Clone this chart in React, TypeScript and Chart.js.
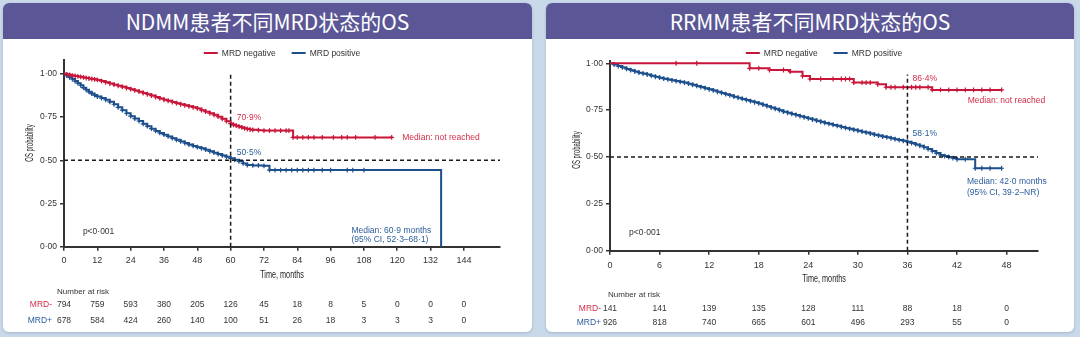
import React, { useEffect, useRef } from 'react';
import { Chart, registerables } from 'chart.js';

Chart.register(...registerables);

// ---------- colours ----------
const RED = '#c8163a';
const BLUE = '#1d4f8c';
const RED_TEXT = '#d22c48';
const BLUE_TEXT = '#2b5c9a';
const AXIS = '#333333';

// ---------- titles ----------
const ndmmTitle = 'NDMM患者不同MRD状态的OS';
const rrmmTitle = 'RRMM患者不同MRD状态的OS';
const seriesNames = ['MRD negative', 'MRD positive'];
const riskRowNames = ['MRD-', 'MRD+'];

// ---------- tick labels ----------
const yTickValues = [0, 0.25, 0.5, 0.75, 1];
const ndmmTimeTicks = [0, 12, 24, 36, 48, 60, 72, 84, 96, 108, 120, 132, 144];
const rrmmTimeTicks = [0, 6, 12, 18, 24, 30, 36, 42, 48];

// ---------- NDMM KM curves [month, survival] ----------
const ndmmNegative: [number, number][] = [
  [0, 1], [1, 0.997], [2, 0.994], [3, 0.99], [4, 0.988], [5, 0.985], [6, 0.982], [7, 0.979], [8, 0.976],
  [9, 0.973], [10, 0.97], [11, 0.968], [12, 0.965], [13.5, 0.958], [15, 0.951], [16.5, 0.944], [18, 0.937],
  [19.5, 0.931], [21, 0.925], [22.5, 0.918], [24, 0.911], [25.5, 0.904], [27, 0.897], [28.5, 0.889], [30, 0.882],
  [31.5, 0.874], [33, 0.866], [34.5, 0.858], [36, 0.85], [37.5, 0.844], [39, 0.837], [40.5, 0.83], [42, 0.824],
  [43.5, 0.818], [45, 0.812], [46.5, 0.806], [48, 0.8], [49.5, 0.79], [51, 0.781], [52.5, 0.772], [54, 0.763],
  [55.5, 0.752], [57, 0.74], [58.5, 0.726], [60, 0.712], [61, 0.705], [62, 0.7], [63, 0.695], [64, 0.69],
  [65, 0.685], [66, 0.681], [67, 0.678], [68, 0.676], [70, 0.674], [72, 0.672], [74, 0.672], [76, 0.672],
  [78, 0.672], [80, 0.672], [81, 0.672], [82.5, 0.632], [84, 0.632], [86, 0.632], [88, 0.632], [90, 0.632],
  [93, 0.632], [97, 0.632], [100, 0.632], [102, 0.632], [105, 0.632], [112, 0.632], [118, 0.632],
];
const ndmmPositive: [number, number][] = [
  [0, 1], [1, 0.99], [2, 0.98], [3, 0.97], [4, 0.958], [5, 0.946], [6, 0.934], [7, 0.92], [8, 0.908],
  [9, 0.896], [10, 0.886], [11, 0.877], [12, 0.869], [13.5, 0.86], [15, 0.85], [16.5, 0.838], [18, 0.824],
  [19.5, 0.806], [21, 0.79], [22.5, 0.772], [24, 0.755], [25.5, 0.741], [27, 0.727], [28.5, 0.711], [30, 0.697],
  [31.5, 0.683], [33, 0.67], [34.5, 0.658], [36, 0.648], [37.5, 0.638], [39, 0.628], [40.5, 0.618], [42, 0.609],
  [43.5, 0.6], [45, 0.591], [46.5, 0.583], [48, 0.576], [49.5, 0.569], [51, 0.561], [52.5, 0.552], [54, 0.544],
  [55.5, 0.536], [57, 0.528], [58.5, 0.52], [60, 0.511], [61.5, 0.503], [63, 0.494], [64.5, 0.482], [66, 0.472],
  [68, 0.47], [70, 0.47], [72, 0.468], [74, 0.443], [76, 0.443], [78, 0.443], [80, 0.443], [82, 0.443],
  [84, 0.443], [86, 0.443], [88, 0.443], [90, 0.443], [93, 0.443], [96, 0.443], [102, 0.443], [104, 0.443],
  [108, 0.443], [135.8, 0],
];

// ---------- RRMM KM curves [month, survival] ----------
const rrmmNegative: [number, number][] = [
  [0, 1], [8, 1], [10.5, 1], [16.9, 0.973], [18, 0.973],
  [19.3, 0.964], [21, 0.964], [21.8, 0.955], [23.3, 0.932], [24.2, 0.916], [25.5, 0.916], [27, 0.916],
  [28, 0.916], [28.5, 0.916], [29, 0.916], [29.5, 0.897], [30.5, 0.897], [31, 0.897], [31.5, 0.897],
  [32.4, 0.888], [33.4, 0.872], [34, 0.872], [34.5, 0.872], [35.5, 0.872], [36.5, 0.872], [37, 0.872],
  [37.5, 0.872], [38.5, 0.872], [39, 0.858], [40, 0.858], [41, 0.858], [42, 0.858], [43, 0.858], [44, 0.858],
  [45, 0.858], [46, 0.858], [47.4, 0.858],
];
const rrmmPositive: [number, number][] = [
  [0, 1], [0.5, 0.993], [1, 0.985], [1.5, 0.978], [2, 0.97], [2.5, 0.963], [3, 0.956], [3.5, 0.95],
  [4, 0.945], [4.5, 0.94], [5, 0.934], [5.5, 0.928], [6, 0.923], [6.5, 0.918], [7, 0.914], [7.5, 0.909],
  [8, 0.905], [8.5, 0.901], [9, 0.897], [9.5, 0.891], [10, 0.885], [10.5, 0.879], [11, 0.873], [11.5, 0.867],
  [12, 0.861], [12.5, 0.855], [13, 0.848], [13.5, 0.842], [14, 0.835], [14.5, 0.829], [15, 0.822], [15.5, 0.816],
  [16, 0.81], [16.5, 0.804], [17, 0.798], [17.5, 0.792], [18, 0.786], [18.5, 0.779], [19, 0.771], [19.5, 0.764],
  [20, 0.757], [20.5, 0.75], [21, 0.742], [21.5, 0.736], [22, 0.73], [22.5, 0.724], [23, 0.718], [23.5, 0.712],
  [24, 0.706], [24.5, 0.7], [25, 0.694], [25.5, 0.688], [26, 0.682], [26.5, 0.677], [27, 0.671], [27.5, 0.666],
  [28, 0.66], [28.5, 0.655], [29, 0.65], [29.5, 0.645], [30, 0.64], [30.5, 0.635], [31, 0.63], [31.5, 0.625],
  [32, 0.619], [32.5, 0.614], [33, 0.609], [33.5, 0.605], [34, 0.6], [34.5, 0.595], [35, 0.59], [35.5, 0.586],
  [36, 0.581], [36.5, 0.574], [37, 0.567], [37.5, 0.56], [38, 0.552], [38.5, 0.542], [39, 0.532], [39.5, 0.521],
  [40, 0.511], [40.5, 0.505], [41, 0.5], [41.5, 0.494], [42, 0.488], [43, 0.488], [44.2, 0.44], [45, 0.44],
  [46, 0.44], [47.4, 0.44],
];

// ---------- numbers at risk ----------
const ndmmRiskNegative = [794, 759, 593, 380, 205, 126, 45, 18, 8, 5, 0, 0, 0];
const ndmmRiskPositive = [678, 584, 424, 260, 140, 100, 51, 26, 18, 3, 3, 3, 0];
const rrmmRiskNegative = [141, 141, 139, 135, 128, 111, 88, 18, 0];
const rrmmRiskPositive = [926, 818, 740, 665, 601, 496, 293, 55, 0];

// ---------- annotations (data coordinates) ----------
type Note = { text: string; x: number; y: number; color: string };
const ndmmNotes: Note[] = [
  { text: '70·9%', x: 62.2, y: 0.745, color: RED_TEXT },
  { text: '50·5%', x: 62.2, y: 0.543, color: BLUE_TEXT },
  { text: 'Median: not reached', x: 121.8, y: 0.629, color: RED_TEXT },
  { text: 'Median: 60·9 months', x: 103.5, y: 0.091, color: BLUE_TEXT },
  { text: '(95% CI, 52·3–68·1)', x: 103.5, y: 0.039, color: BLUE_TEXT },
  { text: 'p<0·001', x: 6.8, y: 0.085, color: '#333' },
];
const rrmmNotes: Note[] = [
  { text: '86·4%', x: 36.6, y: 0.917, color: RED_TEXT },
  { text: 'Median: not reached', x: 43.3, y: 0.8, color: RED_TEXT },
  { text: '58·1%', x: 36.6, y: 0.623, color: BLUE_TEXT },
  { text: 'Median: 42·0 months', x: 43.2, y: 0.367, color: BLUE_TEXT },
  { text: '(95% CI, 39·2–NR)', x: 43.2, y: 0.308, color: BLUE_TEXT },
  { text: 'p<0·001', x: 2.3, y: 0.094, color: '#333' },
];

const SANS = '"Liberation Sans", Arial, sans-serif';

type PanelCfg = {
  title: string;
  cardLeft: number;
  width: number;
  height: number;
  area: { left: number; top: number; right: number; bottom: number };
  xMax: number;
  yMax: number;
  xTicks: number[];
  xTickPad: number;
  neg: [number, number][];
  pos: [number, number][];
  riskNeg: number[];
  riskPos: number[];
  notes: Note[];
  landmark: number;
  landmarkTop: number;
  yTitle: { x: number; y: number };
  xTitleY: number;
  riskHeader: { x: number; y: number };
  riskRows: number[];
  riskLabelRight: number;
};

const ndmmCfg: PanelCfg = {
  title: ndmmTitle,
  cardLeft: 3,
  width: 529,
  height: 293,
  area: { left: 61, top: 21, right: 497, bottom: 207.7 },
  xMax: 157,
  yMax: 1.08,
  xTicks: ndmmTimeTicks,
  xTickPad: 4,
  neg: ndmmNegative,
  pos: ndmmPositive,
  riskNeg: ndmmRiskNegative,
  riskPos: ndmmRiskPositive,
  notes: ndmmNotes,
  landmark: 60,
  landmarkTop: 1.0,
  yTitle: { x: 27, y: 104 },
  xTitleY: 236,
  riskHeader: { x: 54, y: 253 },
  riskRows: [266, 282],
  riskLabelRight: 49,
};

const rrmmCfg: PanelCfg = {
  title: rrmmTitle,
  cardLeft: 546,
  width: 528,
  height: 293,
  area: { left: 64, top: 22.4, right: 492, bottom: 211.7 },
  xMax: 51.8,
  yMax: 1.01,
  xTicks: rrmmTimeTicks,
  xTickPad: 5,
  neg: rrmmNegative,
  pos: rrmmPositive,
  riskNeg: rrmmRiskNegative,
  riskPos: rrmmRiskPositive,
  notes: rrmmNotes,
  landmark: 36,
  landmarkTop: 0.94,
  yTitle: { x: 31, y: 111 },
  xTitleY: 240,
  riskHeader: { x: 62, y: 256 },
  riskRows: [270, 284],
  riskLabelRight: 55,
};

function fmtProb(v: number) {
  return v.toFixed(2).replace('.', '·');
}

// condensed-looking text: normal font squeezed horizontally
function narrowText(ctx: CanvasRenderingContext2D, text: string, x: number, y: number, size: number, squeeze: number, rotate: boolean) {
  ctx.save();
  ctx.translate(x, y);
  if (rotate) ctx.rotate(-Math.PI / 2);
  ctx.scale(squeeze, 1);
  ctx.font = `${size}px ${SANS}`;
  ctx.textAlign = 'center';
  ctx.textBaseline = 'middle';
  ctx.fillText(text, 0, 0);
  ctx.restore();
}

function makeDecorPlugin(cfg: PanelCfg) {
  return {
    id: 'panelDecor',
    afterDatasetsDraw(chart: any) {
      const { ctx, scales } = chart;
      const x = scales.x;
      const y = scales.y;
      ctx.save();
      ctx.setLineDash([4, 3]);
      ctx.strokeStyle = '#1a1a1a';
      ctx.lineWidth = 1.5;
      ctx.beginPath();
      const yh = y.getPixelForValue(0.5);
      ctx.moveTo(x.left, yh);
      ctx.lineTo(x.right, yh);
      const xv = x.getPixelForValue(cfg.landmark);
      ctx.moveTo(xv, y.getPixelForValue(0));
      ctx.lineTo(xv, y.getPixelForValue(cfg.landmarkTop));
      ctx.stroke();
      ctx.restore();
    },
    afterDraw(chart: any) {
      const { ctx, scales, chartArea } = chart;
      const x = scales.x;
      const y = scales.y;
      ctx.save();
      ctx.textBaseline = 'middle';

      // legend
      ctx.font = `8.5px ${SANS}`;
      const lineW = 14;
      const gap = 4;
      const itemGap = 16;
      const widths = seriesNames.map((n) => ctx.measureText(n).width);
      const total = widths.reduce((a, b) => a + b, 0) + 2 * (lineW + gap) + itemGap;
      let lx = (chartArea.left + chartArea.right) / 2 - total / 2;
      const ly = 14;
      [RED, BLUE].forEach((c, i) => {
        ctx.strokeStyle = c;
        ctx.lineWidth = 2;
        ctx.beginPath();
        ctx.moveTo(lx, ly);
        ctx.lineTo(lx + lineW, ly);
        ctx.stroke();
        ctx.fillStyle = '#333';
        ctx.textAlign = 'left';
        ctx.fillText(seriesNames[i], lx + lineW + gap, ly + 0.5);
        lx += lineW + gap + widths[i] + itemGap;
      });

      // annotations
      ctx.font = `8.5px ${SANS}`;
      ctx.textAlign = 'left';
      cfg.notes.forEach((n) => {
        ctx.fillStyle = n.color;
        ctx.fillText(n.text, x.getPixelForValue(n.x), y.getPixelForValue(n.y));
      });

      // axis titles
      ctx.fillStyle = '#222';
      narrowText(ctx, 'Time, months', (chartArea.left + chartArea.right) / 2, cfg.xTitleY, 11, 0.66, false);
      narrowText(ctx, 'OS probability', cfg.yTitle.x, cfg.yTitle.y, 11, 0.54, true);

      // risk table
      ctx.font = `8px ${SANS}`;
      ctx.fillStyle = '#333';
      ctx.textAlign = 'left';
      ctx.fillText('Number at risk', cfg.riskHeader.x, cfg.riskHeader.y);
      ctx.font = `8.5px ${SANS}`;
      const rows = [cfg.riskNeg, cfg.riskPos];
      const rowColors = [RED_TEXT, BLUE_TEXT];
      rows.forEach((vals, r) => {
        const ry = cfg.riskRows[r];
        ctx.textAlign = 'right';
        ctx.fillStyle = rowColors[r];
        ctx.fillText(riskRowNames[r], cfg.riskLabelRight, ry);
        ctx.textAlign = 'center';
        ctx.fillStyle = '#333';
        vals.forEach((v, i) => {
          ctx.fillText(String(v), x.getPixelForValue(cfg.xTicks[i]), ry);
        });
      });
      ctx.restore();
    },
  };
}

function buildConfig(cfg: PanelCfg): any {
  const mk = (pts: [number, number][], color: string, label: string) => ({
    label,
    data: pts.map(([t, s]) => ({ x: t, y: s })),
    borderColor: color,
    backgroundColor: color,
    borderWidth: 2,
    stepped: true,
    fill: false,
    tension: 0,
    clip: false,
    pointStyle: 'cross',
    pointBorderColor: color,
    pointBorderWidth: 1.2,
    pointRadius: (c: any) => {
      const raw = c.raw;
      if (!raw || c.dataIndex === 0 || raw.y === 0) return 0;
      return 2.4;
    },
    pointHoverRadius: 0,
  });
  const grid = {
    drawOnChartArea: false,
    drawTicks: true,
    tickLength: 4,
    color: AXIS,
    lineWidth: 1.5,
  };
  const border = { display: true, color: AXIS, width: 2 };
  return {
    type: 'line',
    data: {
      datasets: [mk(cfg.neg, RED, seriesNames[0]), mk(cfg.pos, BLUE, seriesNames[1])],
    },
    options: {
      responsive: false,
      animation: false,
      events: [],
      layout: {
        padding: { left: 0, top: cfg.area.top, right: cfg.width - cfg.area.right, bottom: 0 },
      },
      plugins: { legend: { display: false }, tooltip: { enabled: false }, title: { display: false } },
      scales: {
        x: {
          type: 'linear',
          min: 0,
          max: cfg.xMax,
          afterBuildTicks: (s: any) => {
            s.ticks = cfg.xTicks.map((v) => ({ value: v }));
          },
          afterFit: (s: any) => {
            s.height = cfg.height - cfg.area.bottom;
          },
          ticks: {
            font: { family: SANS, size: 9 },
            color: '#333',
            padding: cfg.xTickPad,
            maxRotation: 0,
            autoSkip: false,
            callback: (v: any) => String(v),
          },
          grid,
          border,
        },
        y: {
          type: 'linear',
          min: 0,
          max: cfg.yMax,
          afterBuildTicks: (s: any) => {
            s.ticks = yTickValues.map((v) => ({ value: v }));
          },
          afterFit: (s: any) => {
            s.width = cfg.area.left;
          },
          ticks: {
            font: { family: SANS, size: 8.5 },
            color: '#333',
            padding: 3,
            callback: (v: any) => fmtProb(Number(v)),
          },
          grid,
          border,
        },
      },
    },
    plugins: [makeDecorPlugin(cfg)],
  };
}

function Panel({ cfg }: { cfg: PanelCfg }) {
  const ref = useRef<HTMLCanvasElement>(null);
  useEffect(() => {
    if (!ref.current) return;
    const chart = new Chart(ref.current, buildConfig(cfg));
    return () => chart.destroy();
  }, [cfg]);
  return (
    <div
      style={{
        position: 'absolute',
        left: cfg.cardLeft,
        top: 3,
        width: cfg.width,
        height: 329,
        background: '#ffffff',
        borderRadius: 6,
        overflow: 'hidden',
        boxShadow: '0 1px 3px rgba(60,80,110,0.25)',
      }}
    >
      <div
        style={{
          height: 36,
          background: '#5b5796',
          color: '#ffffff',
          fontFamily: '"Noto Sans CJK SC", "Noto Sans", sans-serif',
          fontSize: 21,
          lineHeight: '36px',
          textAlign: 'center',
          whiteSpace: 'nowrap',
        }}
      >
        {cfg.title}
      </div>
      <canvas
        ref={ref}
        width={cfg.width}
        height={cfg.height}
        style={{ display: 'block', width: cfg.width, height: cfg.height }}
      />
    </div>
  );
}

export default function App() {
  return (
    <div
      style={{
        position: 'fixed',
        left: 0,
        top: 0,
        width: 1080,
        height: 337,
        background: '#c9d9ea',
        overflow: 'hidden',
      }}
    >
      <Panel cfg={ndmmCfg} />
      <Panel cfg={rrmmCfg} />
    </div>
  );
}
